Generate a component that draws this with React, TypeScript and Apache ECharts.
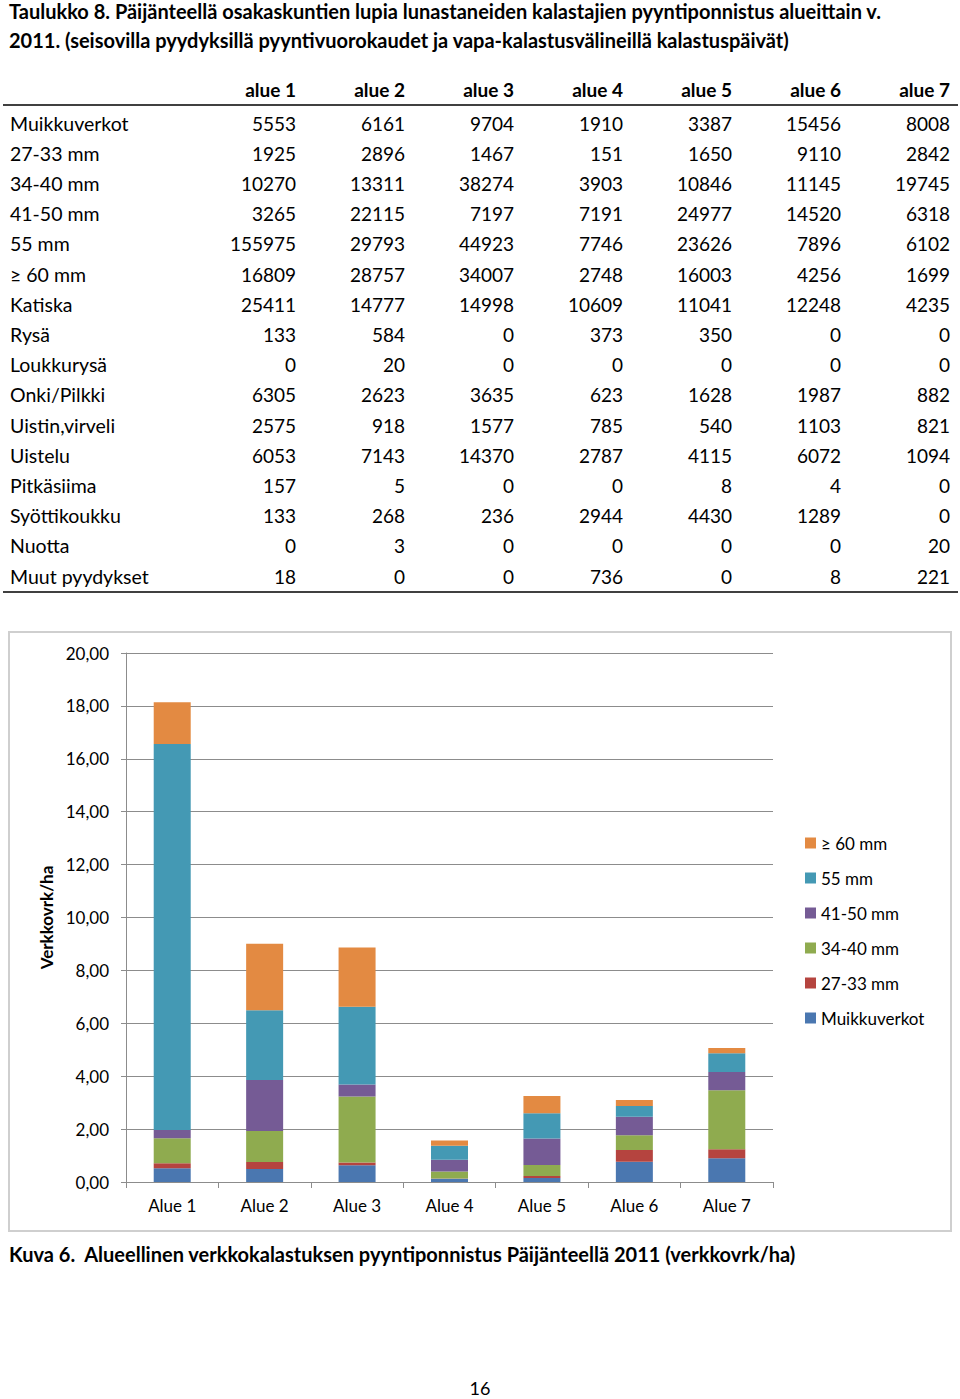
import React, { useEffect, useRef } from "react";
import * as echarts from "echarts";

// ---------- Table data ----------
const titleLines = [
  "Taulukko 8. Päijänteellä osakaskuntien lupia lunastaneiden kalastajien pyyntiponnistus alueittain v.",
  "2011. (seisovilla pyydyksillä pyyntivuorokaudet ja vapa-kalastusvälineillä kalastuspäivät)",
];
const tableColumns = ["alue 1", "alue 2", "alue 3", "alue 4", "alue 5", "alue 6", "alue 7"];
const tableRowLabels = [
  "Muikkuverkot", "27-33 mm", "34-40 mm", "41-50 mm", "55 mm", "≥ 60 mm", "Katiska", "Rysä",
  "Loukkurysä", "Onki/Pilkki", "Uistin,virveli", "Uistelu", "Pitkäsiima", "Syöttikoukku", "Nuotta", "Muut pyydykset",
];
const tableValues: number[][] = [
  [5553, 6161, 9704, 1910, 3387, 15456, 8008],
  [1925, 2896, 1467, 151, 1650, 9110, 2842],
  [10270, 13311, 38274, 3903, 10846, 11145, 19745],
  [3265, 22115, 7197, 7191, 24977, 14520, 6318],
  [155975, 29793, 44923, 7746, 23626, 7896, 6102],
  [16809, 28757, 34007, 2748, 16003, 4256, 1699],
  [25411, 14777, 14998, 10609, 11041, 12248, 4235],
  [133, 584, 0, 373, 350, 0, 0],
  [0, 20, 0, 0, 0, 0, 0],
  [6305, 2623, 3635, 623, 1628, 1987, 882],
  [2575, 918, 1577, 785, 540, 1103, 821],
  [6053, 7143, 14370, 2787, 4115, 6072, 1094],
  [157, 5, 0, 0, 8, 4, 0],
  [133, 268, 236, 2944, 4430, 1289, 0],
  [0, 3, 0, 0, 0, 0, 20],
  [18, 0, 0, 736, 0, 8, 221],
];

// ---------- Chart data ----------
const categories = ["Alue 1", "Alue 2", "Alue 3", "Alue 4", "Alue 5", "Alue 6", "Alue 7"];
const seriesNames = ["Muikkuverkot", "27-33 mm", "34-40 mm", "41-50 mm", "55 mm", "≥ 60 mm"];
const muikkuverkot = [0.52, 0.49, 0.63, 0.12, 0.15, 0.77, 0.9];
const mm27_33 = [0.19, 0.27, 0.11, 0.01, 0.08, 0.44, 0.34];
const mm34_40 = [0.94, 1.17, 2.49, 0.27, 0.41, 0.56, 2.23];
const mm41_50 = [0.32, 1.93, 0.46, 0.44, 1.0, 0.7, 0.69];
const mm55 = [14.59, 2.63, 2.94, 0.53, 0.96, 0.4, 0.71];
const mm60 = [1.58, 2.52, 2.24, 0.2, 0.65, 0.23, 0.2];
const yTicks = { min: 0, max: 20, interval: 2 };
const captionText = "Kuva 6.  Alueellinen verkkokalastuksen pyyntiponnistus Päijänteellä 2011 (verkkovrk/ha)";
const pageNumber = "16";
const yAxisName = "Verkkovrk/ha";

const seriesColors = ["#4a77b0", "#b5443f", "#8fab4f", "#755b95", "#4499b4", "#e38a42"];
const FONT = 'Lato, "Noto Sans", sans-serif';

export default function App() {
  const ref = useRef<HTMLDivElement>(null);
  useEffect(() => {
    if (!ref.current) return;
    const chart = echarts.init(ref.current, null, { renderer: "svg" });
    const seriesData = [muikkuverkot, mm27_33, mm34_40, mm41_50, mm55, mm60];

    const graphics: any[] = [];
    titleLines.forEach((t, i) => {
      graphics.push({
        type: "text", x: 9, y: 11 + i * 29,
        style: { text: t, font: `bold 20px ${FONT}`, fill: "#000", align: "left", verticalAlign: "middle" },
      });
    });
    tableColumns.forEach((c, j) => {
      graphics.push({
        type: "text", x: 296 + j * 109, y: 89,
        style: { text: c, font: `bold 19px ${FONT}`, fill: "#000", align: "right", verticalAlign: "middle" },
      });
    });
    graphics.push({ type: "line", shape: { x1: 3, y1: 105, x2: 958, y2: 105 }, style: { stroke: "#000", lineWidth: 1.5 } });
    graphics.push({ type: "line", shape: { x1: 3, y1: 592, x2: 958, y2: 592 }, style: { stroke: "#000", lineWidth: 1.5 } });
    tableRowLabels.forEach((label, i) => {
      const y = 123 + i * 30.2;
      graphics.push({
        type: "text", x: 10, y,
        style: { text: label, font: `19.5px ${FONT}`, fill: "#000", align: "left", verticalAlign: "middle" },
      });
      tableValues[i].forEach((v, j) => {
        graphics.push({
          type: "text", x: 296 + j * 109, y,
          style: { text: String(v), font: `19px ${FONT}`, fill: "#000", align: "right", verticalAlign: "middle" },
        });
      });
    });
    graphics.push({
      type: "rect", shape: { x: 9, y: 632, width: 942, height: 599 },
      style: { fill: "none", stroke: "#cfcfcf", lineWidth: 2 },
    });
    graphics.push({
      type: "text", x: 9, y: 1254,
      style: { text: captionText, font: `bold 20px ${FONT}`, fill: "#000", align: "left", verticalAlign: "middle" },
    });
    graphics.push({
      type: "text", x: 480, y: 1388,
      style: { text: pageNumber, font: `18px ${FONT}`, fill: "#000", align: "center", verticalAlign: "middle" },
    });

    chart.setOption({
      animation: false,
      grid: { left: 126, right: 187, top: 653, bottom: 217, containLabel: false },
      legend: {
        orient: "vertical", left: 805, top: 833, padding: 0,
        data: seriesNames.slice().reverse(),
        icon: "rect", itemWidth: 11, itemHeight: 11, itemGap: 15,
        textStyle: { fontFamily: FONT, fontSize: 17, color: "#000", lineHeight: 20 },
      },
      xAxis: {
        type: "category", data: categories,
        axisLine: { lineStyle: { color: "#8c8c8c", width: 1 } },
        axisTick: { show: true, length: 6, lineStyle: { color: "#8c8c8c" } },
        axisLabel: { fontFamily: FONT, fontSize: 17, color: "#000", margin: 15 },
      },
      yAxis: {
        type: "value", min: yTicks.min, max: yTicks.max, interval: yTicks.interval,
        name: yAxisName, nameLocation: "middle", nameGap: 71, nameRotate: 90,
        nameTextStyle: { fontFamily: FONT, fontSize: 17, fontWeight: "bold", color: "#000" },
        axisLine: { show: true, lineStyle: { color: "#8c8c8c", width: 1 } },
        axisTick: { show: true, length: 5, lineStyle: { color: "#8c8c8c" } },
        splitLine: { show: true, lineStyle: { color: "#8c8c8c", width: 1 } },
        axisLabel: {
          fontFamily: FONT, fontSize: 17, color: "#000", margin: 17,
          formatter: (v: number) => v.toFixed(2).replace(".", ","),
        },
      },
      series: seriesNames.map((name, i) => ({
        name, type: "bar", stack: "total", barWidth: 37,
        data: seriesData[i],
        itemStyle: { color: seriesColors[i] },
      })),
      graphic: graphics,
    });
    return () => chart.dispose();
  }, []);
  return <div ref={ref} style={{ position: "absolute", left: 0, top: 0, width: 960, height: 1399, background: "#fff" }} />;
}
